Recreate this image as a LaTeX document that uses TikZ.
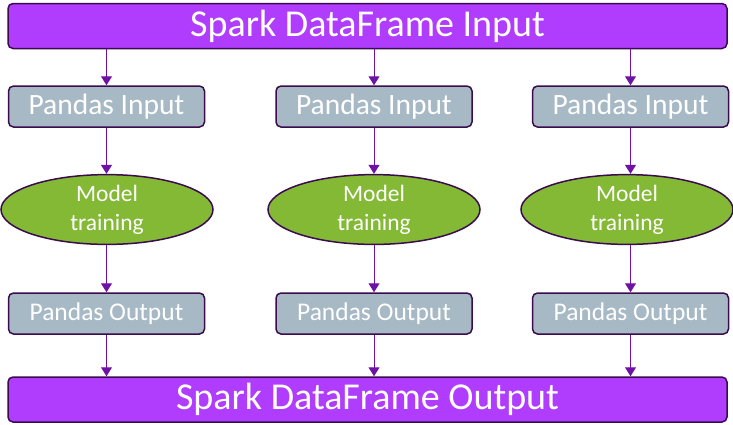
\documentclass[tikz,border=0pt]{standalone}
\usepackage{fontspec}
\setmainfont{Carlito}
\usetikzlibrary{shapes.geometric,arrows.meta}
\definecolor{sparkfill}{HTML}{B03CFD}
\definecolor{edgepurple}{HTML}{3A0C4E}
\definecolor{pandasfill}{HTML}{A6B9C5}
\definecolor{modelfill}{HTML}{84B936}
\definecolor{flow}{HTML}{7011A6}
\tikzset{
  sparkbox/.style={draw=edgepurple, line width=1.5pt, fill=sparkfill, rounded corners=5pt,
    minimum width=719pt, minimum height=45pt, text=white, font=\fontsize{38}{40}\selectfont, inner sep=0pt},
  pandasbox/.style={draw=edgepurple, line width=1.5pt, fill=pandasfill, rounded corners=5pt,
    minimum width=196pt, minimum height=41pt, text=white, inner sep=0pt},
  modelnode/.style={ellipse, draw=edgepurple, line width=1.5pt, fill=modelfill,
    minimum width=212pt, minimum height=69pt, text=white, inner sep=0pt,
    align=center, font=\fontsize{23.5}{29}\selectfont},
  flowarrow/.style={draw=flow, line width=1pt, -{Triangle[length=9pt,width=11pt]}}
}
\begin{document}
\begin{tikzpicture}[x=1pt,y=-1pt]
\useasboundingbox (0,0) rectangle (733,424);
\node[sparkbox] (in) at (367.5,26) {Spark DataFrame Input};
\node[sparkbox] (out) at (367.5,399.5) {Spark DataFrame Output};
\foreach \i/\x/\mx in {1/106.5/107, 2/374/374, 3/630.5/627}{
  \node[pandasbox, font=\fontsize{29.5}{32}\selectfont] (pin\i) at (\x,106.5) {Pandas Input};
  \node[modelnode] (m\i) at (\mx,209.5) {Model\\training};
  \node[pandasbox, font=\fontsize{25.5}{28}\selectfont] (pout\i) at (\x,313.5) {Pandas Output};
  \draw[flowarrow] (in.south -| pin\i) -- (pin\i.north);
  \draw[flowarrow] (pin\i.south) -- (m\i.north -| pin\i);
  \draw[flowarrow] (m\i.south -| pin\i) -- (pout\i.north);
  \draw[flowarrow] (pout\i.south) -- (out.north -| pout\i);
}
\end{tikzpicture}
\end{document}
